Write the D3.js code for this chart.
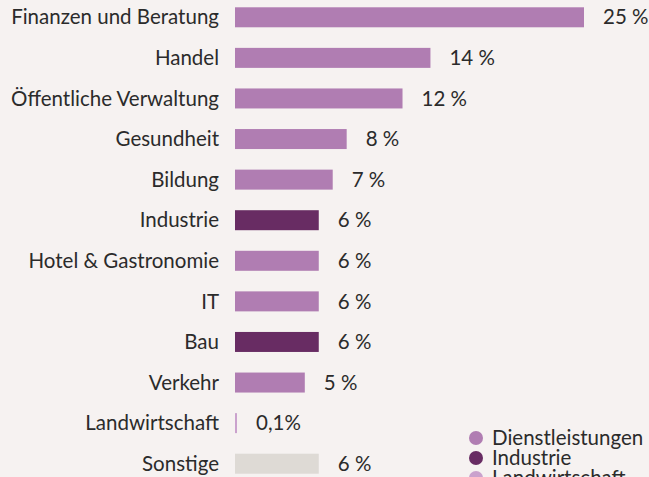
<!DOCTYPE html>
<html>
<head>
<meta charset="utf-8">
<script src="https://cdn.jsdelivr.net/npm/d3@7"></script>
<style>
  html, body { margin: 0; padding: 0; background: #f6f2f1; }
  svg { display: block; }
  text { font-family: Lato, "Open Sans", sans-serif; fill: #2b2b2b; }
</style>
</head>
<body>
<svg id="chart" width="649" height="477"></svg>
<script>
// Branchen und Anteile
const categories = ["Finanzen und Beratung", "Handel", "Öffentliche Verwaltung", "Gesundheit", "Bildung",
  "Industrie", "Hotel & Gastronomie", "IT", "Bau", "Verkehr", "Landwirtschaft", "Sonstige"];
const values = [25, 14, 12, 8, 7, 6, 6, 6, 6, 5, 0.1, 6];
const valueLabels = ["25 %", "14 %", "12 %", "8 %", "7 %", "6 %", "6 %", "6 %", "6 %", "5 %", "0,1%", "6 %"];
const sectors = ["Dienstleistungen", "Dienstleistungen", "Dienstleistungen", "Dienstleistungen", "Dienstleistungen",
  "Industrie", "Dienstleistungen", "Dienstleistungen", "Industrie", "Dienstleistungen", "Landwirtschaft", "Sonstige"];
const legendItems = ["Dienstleistungen", "Industrie", "Landwirtschaft"];

const color = d3.scaleOrdinal()
  .domain(["Dienstleistungen", "Industrie", "Landwirtschaft", "Sonstige"])
  .range(["#b07db2", "#682c63", "#caa2cd", "#dedad5"]);

const fontSize = 20.5;
const svg = d3.select("#chart");

const x = d3.scaleLinear().domain([0, 25]).range([235, 584]);
const y = d3.scaleBand().domain(categories).range([-3, 484]).paddingInner(0.5).paddingOuter(0.25);

const rows = svg.selectAll("g.row")
  .data(categories.map((c, i) => ({ c, v: values[i], l: valueLabels[i], s: sectors[i] })))
  .join("g").attr("class", "row");

rows.append("rect")
  .attr("x", x(0))
  .attr("y", d => y(d.c) + y.bandwidth() / 2 - 10)
  .attr("width", d => Math.max(2, x(d.v) - x(0)))
  .attr("height", 20)
  .attr("fill", d => color(d.s));

rows.append("text")
  .attr("x", 219)
  .attr("y", d => y(d.c) + y.bandwidth() / 2)
  .attr("dy", "0.35em")
  .attr("text-anchor", "end")
  .attr("font-size", fontSize)
  .text(d => d.c);

rows.append("text")
  .attr("x", d => Math.max(x(0) + 2, x(d.v)) + 19)
  .attr("y", d => y(d.c) + y.bandwidth() / 2)
  .attr("dy", "0.35em")
  .attr("font-size", fontSize)
  .text(d => d.l);

// Legende
const legend = svg.append("g").attr("transform", "translate(476,438)");
const li = legend.selectAll("g").data(legendItems).join("g")
  .attr("transform", (d, i) => `translate(0,${i * 20})`);
li.append("circle").attr("r", 7).attr("fill", d => color(d));
li.append("text").attr("x", 16).attr("dy", "0.35em").attr("font-size", fontSize).text(d => d);
</script>
</body>
</html>
